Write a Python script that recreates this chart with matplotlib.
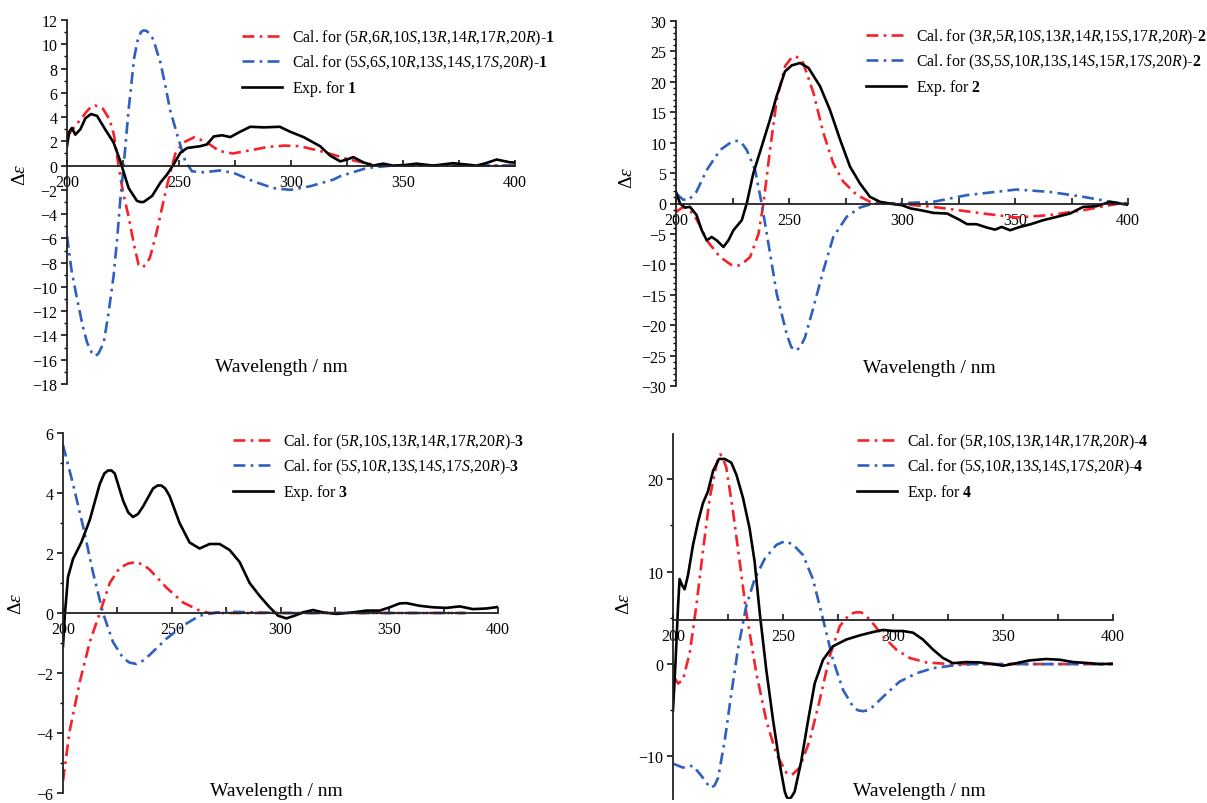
import numpy as np
import matplotlib

matplotlib.use("Agg")

import matplotlib.pyplot as plt
from matplotlib.ticker import MultipleLocator

plt.rcParams["font.family"] = ["Liberation Serif", "DejaVu Serif"]
plt.rcParams["mathtext.fontset"] = "custom"
plt.rcParams["mathtext.rm"] = "Liberation Serif"
plt.rcParams["mathtext.it"] = "Liberation Serif:italic"
plt.rcParams["mathtext.bf"] = "Liberation Serif:bold"

# ---------------- data ----------------
# compound 1
c1_red_x = [200, 203, 206, 209, 211, 212.6, 214.5, 216, 219, 221, 223, 225, 227.5, 230, 232, 233.5, 235, 237, 240, 242.5, 244.6,
            246.5, 248.4, 251, 253, 257, 262.5, 268, 274, 283, 290, 297, 304, 313, 316, 326, 336.6, 345, 360, 380, 400]
c1_red_y = [2.4, 3.1, 3.8, 4.5, 4.9, 4.95, 4.85, 4.7, 3.8, 2.5, 0.0, -2.2, -4.2, -6.6, -8.2, -8.4, -8.2, -7.6, -5.5, -3.4, -1.7,
            -0.3, 1.0, 1.7, 2.0, 2.35, 1.9, 1.2, 1.0, 1.3, 1.55, 1.65, 1.6, 1.2, 1.05, 0.5, 0.08, 0.0, 0.0, 0.0, 0.0]
c1_blue_x = [200, 202, 204.5, 207, 209, 211, 212.6, 214, 216.4, 218.5, 220.8, 222.5, 223.8, 225.3, 227.5, 230, 231.5, 233, 234.2,
             235.5, 237, 238.5, 241.7, 244, 246, 249.9, 252.8, 255.8, 261, 268.4, 274.4, 283.3, 292, 299.5, 308.6, 319, 321.9,
             333.8, 345, 360, 380, 400]
c1_blue_y = [-5.8, -8.6, -11.0, -13.2, -14.6, -15.4, -15.7, -15.5, -14.6, -12.2, -9.1, -5.8, -2.8, 0.0, 4.6, 8.9, 10.3, 11.0, 11.15,
             11.1, 10.85, 10.4, 8.5, 6.5, 4.6, 2.1, 0.36, -0.47, -0.55, -0.4, -0.6, -1.3, -1.85, -2.0, -1.7, -1.15, -0.88,
             -0.2, 0.0, 0.0, 0.0, 0.0]
c1_exp_x = [200, 201, 202.2, 203.7, 206, 208.2, 210.7, 213.4, 217, 220.8, 223.8, 227.5, 231.2, 232.7, 234.2, 238, 241.7, 244.6,
            247.6, 250.6, 253.6, 259.5, 262.5, 265.5, 269.2, 272.9, 277.4, 281.8, 287.8, 295, 299.5, 305.6, 313, 317.6, 322,
            325, 327.8, 332.3, 336.7, 341.2, 345.6, 351, 356, 363.5, 372.4, 382.8, 387, 391.8, 397.8, 400]
c1_exp_y = [1.6, 2.8, 3.1, 2.55, 3.0, 3.9, 4.25, 4.1, 3.0, 1.9, 0.36, -1.85, -2.9, -3.0, -3.0, -2.5, -1.4, -0.75,
            0.1, 1.05, 1.45, 1.6, 1.75, 2.4, 2.5, 2.35, 2.8, 3.2, 3.15, 3.2, 2.8, 2.35, 1.6, 0.8, 0.35,
            0.5, 0.7, 0.27, 0.0, 0.16, 0.0, 0.05, 0.16, 0.0, 0.2, 0.0, 0.2, 0.5, 0.27, 0.25]

# compound 2
c2_red_x = [200, 203.2, 207.7, 210.5, 213.6, 219.5, 224.5, 226.9, 229, 232.8, 236.5, 238.7, 241.6, 244.6, 248.3, 251, 252.7,
            254.5, 256.3, 260.8, 265.2, 269.6, 274, 280, 285.8, 291.7, 300, 313.8, 325, 335.9, 350.7, 365.5, 380.2, 392,
            398, 400]
c2_red_y = [-1.4, -0.55, -1.65, -3.6, -6.05, -8.8, -10.1, -10.3, -10.0, -8.8, -5.0, 0.0, 8.8, 17.1, 22.6, 23.9, 24.2,
            23.9, 23.1, 18.2, 11.6, 6.6, 3.6, 1.4, 0.3, 0.0, -0.1, -0.55, -1.1, -1.65, -2.3, -1.9, -1.1, -0.28,
            0.1, 0.0]
c2_blue_x = [200, 203, 205.5, 209, 213.6, 219.5, 224.5, 226.9, 229, 231.3, 235, 237.9, 240.9, 244.6, 249, 251, 253.1, 255,
             257.1, 260.8, 265.2, 269.6, 275.5, 281.4, 287.3, 300, 313.8, 328.6, 350.7, 365.5, 380.2, 395, 400]
c2_blue_y = [1.65, 0.66, 0.55, 1.9, 5.5, 8.8, 10.1, 10.3, 10.0, 8.8, 5.5, 0.0, -6.6, -14.9, -21.5, -23.6, -24.2, -23.6,
             -22.0, -17.1, -11.0, -5.5, -2.2, -0.66, 0.0, 0.05, 0.27, 1.37, 2.3, 1.9, 1.1, 0.1, 0.0]
c2_exp_x = [200, 201.8, 204, 206.2, 209.1, 211.4, 213.6, 215.8, 218, 221, 223.2, 225.4, 229.1, 231.3, 234.2, 237.9, 241.6,
            244.5, 248.2, 251.2, 254.9, 258.6, 263.7, 268.1, 272.6, 277, 281.4, 285.8, 290.3, 296.2, 300, 303.7, 309.6,
            314, 320, 325.8, 328.8, 333, 337.5, 341.2, 344.1, 347.8, 352.2, 357, 362.4, 368.4, 374.3, 380.2, 386, 392,
            395, 398, 400]
c2_exp_y = [1.9, 0.0, -0.66, -0.55, -1.9, -4.4, -6.05, -5.5, -6.05, -7.15, -6.05, -4.4, -2.75, 0.0, 4.95, 9.35, 13.8,
            17.6, 21.7, 22.7, 23.1, 22.3, 19.3, 15.4, 10.5, 6.05, 3.3, 1.1, 0.27, -0.1, -0.27, -0.8, -1.2,
            -1.55, -1.65, -2.75, -3.4, -3.4, -3.95, -4.3, -3.85, -4.4, -3.85, -3.4, -2.75, -2.2, -1.65, -0.55, -0.45, 0.27,
            0.1, -0.1, -0.2]

# compound 3
c3_red_x = [200, 203, 207.7, 212.3, 216.9, 221.5, 226, 230, 233.7, 237, 239.8, 247.5, 255.2, 262.8, 267.4, 300, 340, 385]
c3_red_y = [-5.6, -3.95, -2.3, -0.97, 0.0, 1.0, 1.5, 1.65, 1.7, 1.6, 1.45, 0.85, 0.35, 0.08, 0.0, 0.0, 0.0, 0.0]
c3_blue_x = [200, 204.6, 209.2, 213.8, 218.4, 223, 227.6, 230.5, 233.7, 236.5, 239.8, 247.5, 255.2, 262.8, 270.5, 278, 300, 340, 385]
c3_blue_y = [5.6, 4.3, 2.9, 1.35, 0.0, -0.97, -1.5, -1.65, -1.7, -1.6, -1.4, -0.86, -0.42, -0.09, 0.02, 0.04, 0.0, 0.0, 0.0]
c3_exp_x = [200, 200.8, 202.3, 204.6, 208.4, 212.3, 216.9, 219, 220.7, 222.3, 223.8, 227.6, 230, 232.2, 234.5, 236.8, 241.4,
            243.5, 245.2, 247, 249, 253.6, 258.2, 262.8, 267.4, 272, 276.6, 281.2, 285.8, 290.4, 295, 298.9, 302.7, 306.5,
            310.3, 315, 319.5, 325.7, 333.3, 339.5, 345.6, 350.2, 354.8, 357.9, 364, 370.1, 376.2, 382.4, 388.5, 394.6, 400]
c3_exp_y = [-1.1, -0.1, 1.2, 1.8, 2.35, 3.1, 4.3, 4.65, 4.75, 4.75, 4.65, 3.75, 3.35, 3.2, 3.3, 3.55, 4.15,
            4.25, 4.25, 4.15, 3.9, 3.0, 2.35, 2.15, 2.3, 2.3, 2.1, 1.7, 1.0, 0.57, 0.19, -0.09, -0.18, -0.09,
            0.02, 0.1, 0.02, -0.03, 0.02, 0.08, 0.08, 0.19, 0.32, 0.33, 0.24, 0.19, 0.17, 0.22, 0.13, 0.15, 0.2]

# compound 4
c4_red_x = [200.3, 202.3, 204.5, 207.6, 210.6, 213.6, 216.7, 219.7, 220.8, 221.5, 222.5, 224.2, 227.3, 230.3, 233.3, 237.9,
            242.4, 247, 251.5, 253, 254.5, 257.6, 262.1, 266.7, 271.2, 275.8, 280.3, 283, 285.6, 289.4, 295.5, 301.5, 307.6,
            315.2, 325.8, 350, 375, 400]
c4_red_y = [-1.35, -2.1, -1.7, 1.2, 6.3, 12.2, 18.0, 21.5, 22.4, 22.7, 22.4, 21.3, 16.5, 11.1, 5.6, -1.0,
            -6.1, -9.75, -11.75, -12.0, -11.9, -11.2, -8.3, -3.9, 0.84, 4.1, 5.4, 5.6, 5.6, 4.85, 3.0, 1.57, 0.66,
            0.18, 0.0, 0.0, 0.0, 0.0]
c4_blue_x = [200.3, 204.5, 209.1, 213.6, 216, 217.4, 219, 220.5, 223.5, 226.5, 229.5, 233.3, 237.1, 241.7, 247, 250.8, 254.5,
             259.1, 263.6, 268.2, 272.7, 277.3, 281.8, 284, 286.4, 288.5, 290.9, 297, 303, 310.6, 318.2, 327.3, 336.4, 360,
             380, 400]
c4_blue_y = [-10.8, -11.2, -11.0, -12.3, -13.1, -13.4, -13.1, -12.3, -8.3, -3.2, 1.57, 6.3, 9.2, 11.4, 12.9, 13.3, 12.96,
             11.8, 9.2, 4.85, 0.47, -2.8, -4.6, -5.0, -5.1, -5.0, -4.6, -3.2, -1.9, -1.0, -0.44, -0.15, 0.0, 0.0,
             0.0, 0.0]
c4_exp_x = [200, 201.2, 202.3, 203, 204.2, 205.3, 206.8, 209.1, 211.4, 213.6, 215.9, 218.2, 220.9, 223.5, 226.5, 228.8, 231.8,
            234.8, 237.1, 239.4, 242.4, 245.5, 248.5, 250.8, 251.7, 252.7, 253.8, 255.3, 258.3, 261.4, 264.4, 268.2, 272.7,
            278.8, 284.8, 290.9, 295.5, 300, 304.5, 309.1, 313.6, 318.2, 322.7, 327.3, 333.3, 339.4, 345.5, 350, 356, 362.1,
            369.7, 375.8, 381.8, 389.4, 394, 400]
c4_exp_y = [-5.0, 0.47, 6.3, 9.2, 8.5, 8.1, 9.6, 12.9, 15.4, 17.4, 18.7, 20.9, 22.2, 22.2, 21.8, 20.5, 18.0,
            14.7, 11.1, 5.6, -0.62, -6.1, -10.8, -13.8, -14.4, -14.6, -14.4, -13.8, -10.5, -6.1, -2.1, 0.47, 1.93,
            2.66, 3.1, 3.47, 3.7, 3.58, 3.58, 3.4, 2.66, 1.57, 0.66, 0.1, 0.22, 0.18, 0.0, -0.18, 0.1, 0.4,
            0.55, 0.47, 0.22, 0.1, 0.0, 0.04]

cal_r = ["5R,6R,10S,13R,14R,17R,20R", "3R,5R,10S,13R,14R,15S,17R,20R",
         "5R,10S,13R,14R,17R,20R", "5R,10S,13R,14R,17R,20R"]
cal_s = ["5S,6S,10R,13S,14S,17S,20R", "3S,5S,10R,13S,14S,15R,17S,20R",
         "5S,10R,13S,14S,17S,20R", "5S,10R,13S,14S,17S,20R"]
y_limits = [(-18, 12), (-30, 30), (-6, 6), (-14.6, 24.9)]
y_major = [2, 5, 2, 10]
y_minor = [1, 1, 1, 5]
baseline = [0, 0, 0, 4.8]

RED = "#f5222a"
BLUE = "#2f5fbf"


def config_label(cfg, num):
    parts = []
    for p in cfg.split(","):
        parts.append(p[:-1] + r"$\mathit{" + p[-1] + "}$")
    return "Cal. for (" + ",".join(parts) + r")-$\mathbf{" + num + "}$"


W, H = 1207, 804
fig = plt.figure(figsize=(W / 100, H / 100), dpi=100)

# axes boxes in pixels: left, right, top, bottom
boxes = [(67, 515, 21, 385), (676, 1128, 22, 387), (63, 498, 434, 794), (673, 1113, 435, 800)]
legend_at = [(242, 29), (866, 28), (233, 433), (857, 433)]
xlabel_at = [(0.478, 0.047), (0.56, 0.052), (0.49, 0.006), (0.56, 0.022)]
ylabel_at = [(-0.103, 0.577), (-0.108, 0.573), (-0.106, 0.528), (-0.111, 0.537)]

series = [
    (c1_red_x, c1_red_y, c1_blue_x, c1_blue_y, c1_exp_x, c1_exp_y),
    (c2_red_x, c2_red_y, c2_blue_x, c2_blue_y, c2_exp_x, c2_exp_y),
    (c3_red_x, c3_red_y, c3_blue_x, c3_blue_y, c3_exp_x, c3_exp_y),
    (c4_red_x, c4_red_y, c4_blue_x, c4_blue_y, c4_exp_x, c4_exp_y),
]

dashdot = (0, (4.5, 2, 1, 2))

for i in range(4):
    l, r, t, b = boxes[i]
    ax = fig.add_axes([l / W, 1 - b / H, (r - l) / W, (b - t) / H])
    rx, ry, bx, by, ex, ey = series[i]
    num = str(i + 1)
    ax.plot(rx, ry, color=RED, lw=1.9, ls=dashdot, label=config_label(cal_r[i], num))
    ax.plot(bx, by, color=BLUE, lw=1.9, ls=dashdot, label=config_label(cal_s[i], num))
    ax.plot(ex, ey, color="black", lw=1.9, label="Exp. for $\\mathbf{" + num + "}$")

    ax.set_xlim(200, 400)
    ax.set_ylim(*y_limits[i])
    ax.spines["top"].set_visible(False)
    ax.spines["right"].set_visible(False)
    ax.spines["bottom"].set_position(("data", baseline[i]))
    for s in ("left", "bottom"):
        ax.spines[s].set_linewidth(1.3)
        ax.spines[s].set_color("#222222")

    ax.xaxis.set_major_locator(MultipleLocator(50))
    ax.xaxis.set_minor_locator(MultipleLocator(25))
    ax.yaxis.set_major_locator(MultipleLocator(y_major[i]))
    ax.yaxis.set_minor_locator(MultipleLocator(y_minor[i]))
    ax.tick_params(axis="x", which="both", direction="in", length=4, width=1.1, pad=6, labelsize=11.5)
    ax.tick_params(axis="y", which="major", direction="out", length=4, width=1.1, pad=3, labelsize=11.5)
    ax.tick_params(axis="y", which="minor", direction="out", length=2.5, width=1.0)

    ax.set_xlabel("Wavelength / nm", fontsize=14)
    ax.xaxis.set_label_coords(*xlabel_at[i])
    ax.xaxis.label.set_verticalalignment("center")
    ax.set_ylabel(r"$\Delta\varepsilon$", fontsize=14)
    ax.yaxis.set_label_coords(*ylabel_at[i])
    ax.yaxis.label.set_verticalalignment("center")

    lx, ly = legend_at[i]
    ax.legend(loc="upper left", bbox_to_anchor=(lx / W, 1 - ly / H), bbox_transform=fig.transFigure,
              frameon=False, fontsize=11.4, handlelength=2.5, handletextpad=0.65, labelspacing=0.38,
              borderpad=0, borderaxespad=0)

fig.savefig("out.png", dpi=100)
